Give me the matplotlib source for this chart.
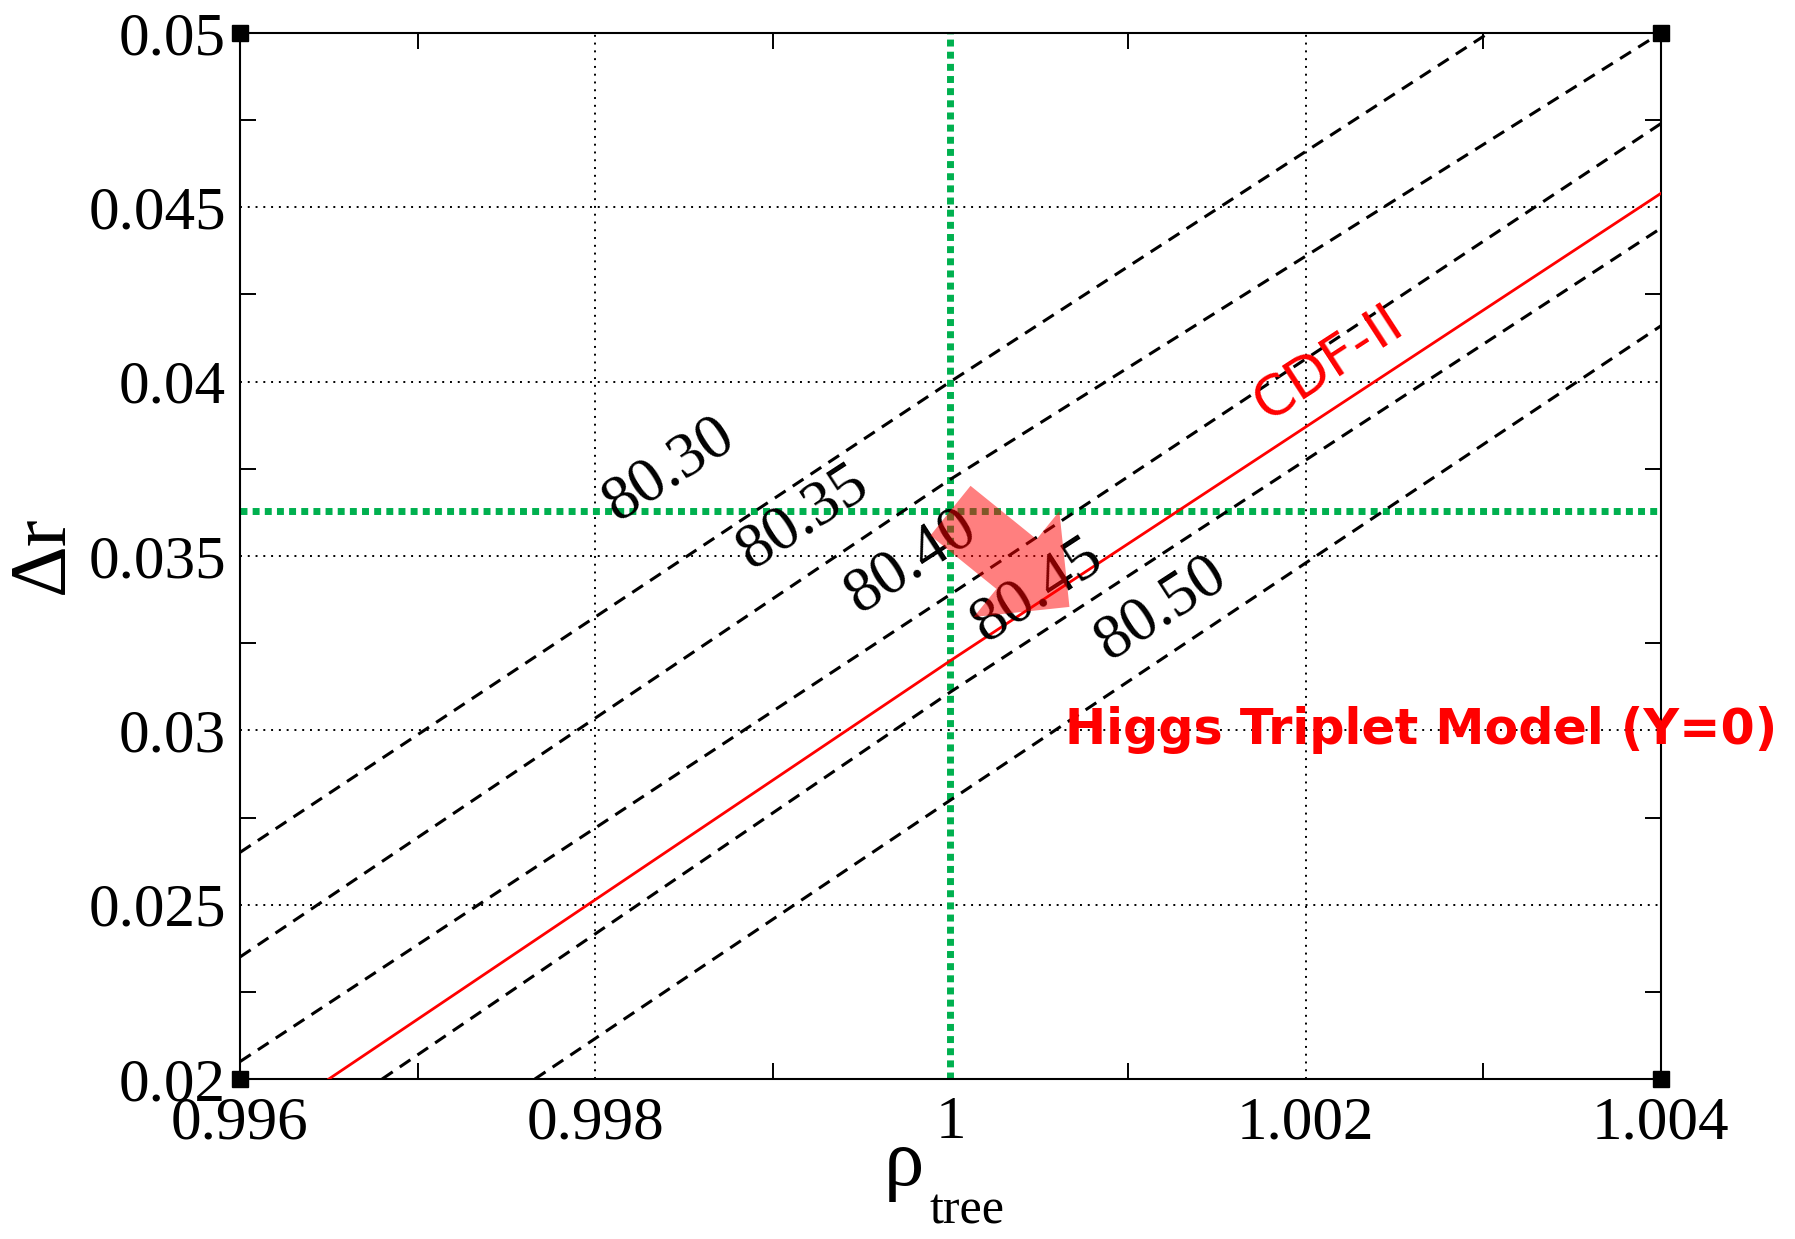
import numpy as np
import matplotlib
matplotlib.use("Agg")
import matplotlib.pyplot as plt
from matplotlib.ticker import MultipleLocator

# contour lines (rho_tree, delta r)
mw_levels = ['80.30', '80.35', '80.40', '80.45', '80.50']
line_x = {
    '80.30': [0.996, 1.000, 1.00303],
    '80.35': [0.996, 1.000, 1.004],
    '80.40': [0.996, 1.000, 1.004],
    '80.45': [0.99680, 1.000, 1.004],
    '80.50': [0.99766, 1.000, 1.004],
}
line_y = {
    '80.30': [0.0265, 0.0400, 0.0500],
    '80.35': [0.0235, 0.0372, 0.0500],
    '80.40': [0.0205, 0.0339, 0.0474],
    '80.45': [0.0200, 0.0311, 0.0444],
    '80.50': [0.0200, 0.0280, 0.0416],
}
cdf_x = [0.9965, 1.000, 1.004]
cdf_y = [0.0200, 0.0320, 0.0454]

# label positions for the contour values
label_x = [0.99842, 0.99917, 0.99978, 1.00049, 1.00119]
label_y = [0.03747, 0.03609, 0.03483, 0.03400, 0.03348]

# SM reference point
rho_sm = 1.0
dr_sm = 0.0363
arrow_tip = (1.00067, 0.03354)

dpi = 100
fig = plt.figure(figsize=(17.95, 12.39), dpi=dpi)
ax = fig.add_axes([0.1337, 0.1291, 0.9253 - 0.1337, 0.9734 - 0.1291])

serif = 'Liberation Serif'

# grid at major ticks
for gx in [0.998, 1.002]:
    ax.axvline(gx, color='black', lw=1.4, ls=(0, (1, 3)), zorder=1)
for gy in [0.025, 0.03, 0.035, 0.04, 0.045]:
    ax.axhline(gy, color='black', lw=1.4, ls=(0, (1, 3)), zorder=1)

# dashed contours
for lev in mw_levels:
    ax.plot(line_x[lev], line_y[lev], color='black', lw=2.2,
            ls=(0, (4.2, 2.8)), zorder=3)

# CDF-II line
ax.plot(cdf_x, cdf_y, color='red', lw=2.0, zorder=3)

# green cross
ax.axvline(rho_sm, color='#00B04F', lw=5, ls=(0, (1, 0.75)),
           dash_capstyle='butt', zorder=2)
ax.axhline(dr_sm, color='#00B04F', lw=5, ls=(0, (1, 0.75)),
           dash_capstyle='butt', zorder=2)

# contour labels
for lev, lx, ly in zip(mw_levels, label_x, label_y):
    ax.text(lx, ly, lev, fontsize=46, fontfamily=serif, rotation=33,
            rotation_mode='anchor', ha='center', va='center', zorder=4)

ax.text(1.00213, 0.04053, 'CDF-II', color='red', fontsize=40,
        rotation=33, rotation_mode='anchor', ha='center', va='center', zorder=4)

# arrow
ax.annotate('', xy=arrow_tip, xytext=(rho_sm, dr_sm),
            arrowprops=dict(arrowstyle='simple,head_length=49,head_width=98,tail_width=46',
                            mutation_scale=1, color='red', alpha=0.5, lw=0,
                            shrinkA=0, shrinkB=0), zorder=5)

ax.text(1.00265, 0.0300, 'Higgs Triplet Model (Y=0)', color='red',
        fontsize=35.5, fontweight='bold', fontfamily='DejaVu Sans',
        ha='center', va='center', zorder=6, clip_on=False)

ax.set_xlim(0.996, 1.004)
ax.set_ylim(0.02, 0.05)
ax.xaxis.set_minor_locator(MultipleLocator(0.001))
ax.yaxis.set_minor_locator(MultipleLocator(0.0025))
ax.set_xticks([0.996, 0.998, 1.0, 1.002, 1.004])
ax.set_xticklabels(['0.996', '0.998', '1', '1.002', '1.004'], fontfamily=serif)
ax.set_yticks([0.02, 0.025, 0.03, 0.035, 0.04, 0.045, 0.05])
ax.set_yticklabels(['0.02', '0.025', '0.03', '0.035', '0.04', '0.045', '0.05'],
                   fontfamily=serif)
ax.tick_params(which='major', length=0, pad=10, labelsize=44)
ax.tick_params(axis='x', which='major', pad=12)
ax.tick_params(which='minor', direction='in', length=11.5, width=1.4,
               top=True, right=True)
for sp in ax.spines.values():
    sp.set_linewidth(1.5)

# corner squares
ax.plot([0.996, 1.004, 0.996, 1.004], [0.02, 0.02, 0.05, 0.05], 's',
        color='black', ms=12, clip_on=False, zorder=7)

# axis labels
fig.text(43 / 1795, 1 - 555 / 1239, 'Δr', fontfamily=serif, fontsize=58,
         rotation=90, ha='center', va='center')
fig.text(904 / 1795, 1 - 1185 / 1239, 'ρ', fontfamily=serif, fontsize=58,
         ha='center', va='baseline')
fig.text(930 / 1795, 1 - 1224 / 1239, 'tree', fontfamily=serif, fontsize=36,
         ha='left', va='baseline')

plt.savefig('out.png', dpi=dpi)
